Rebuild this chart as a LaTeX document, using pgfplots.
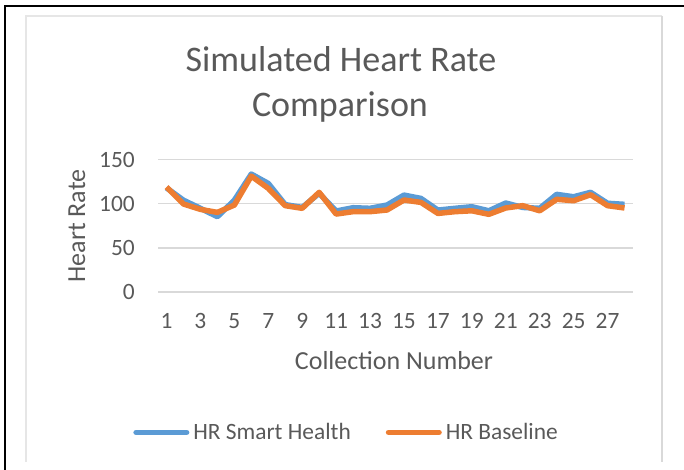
\documentclass[border=0pt]{standalone}
\usepackage{pgfplots}
\pgfplotsset{compat=1.18}
\usepackage{fontspec}
\setmainfont{Carlito}
\definecolor{hrblue}{HTML}{5B9BD5}
\definecolor{hrorange}{HTML}{ED7D31}
\definecolor{txtgray}{HTML}{595959}
\definecolor{gridgray}{HTML}{D9D9D9}
\definecolor{framelight}{HTML}{E6E6E6}
\begin{document}
\begin{tikzpicture}
\draw[black, line width=2pt] (5pt,0pt) -- (5pt,464pt) -- (690pt,464pt);
\draw[framelight, line width=1.3pt] (26pt,8pt) -- (26pt,454pt) -- (662pt,454pt);
\draw[gridgray, line width=2pt] (662pt,454pt) -- (662pt,8pt);
\begin{axis}[
  at={(158pt,178pt)}, anchor=south west,
  scale only axis, width=475pt, height=132.4pt,
  xmin=0.5, xmax=28.5, ymin=0, ymax=150,
  xtick={1,3,...,27}, ytick={0,50,100,150},
  axis line style={draw=none},
  major tick length=0pt,
  ymajorgrids, xmajorgrids=false,
  major grid style={draw=gridgray, line width=1.5pt},
  clip=false,
  ticklabel style={font=\fontsize{23.4}{28}\selectfont, text=txtgray},
  /pgf/number format/assume math mode=true,
  xticklabel style={anchor=base, inner sep=0pt, yshift=-37pt},
  yticklabel style={anchor=east, inner sep=0pt, xshift=-23pt},
  legend columns=2,
  legend style={draw=none, fill=none, font=\fontsize{23.4}{28}\selectfont, text=txtgray,
    at={(0.397,-1.06)}, anchor=center,
    /tikz/every odd column/.append style={column sep=2pt},
    /tikz/every even column/.append style={column sep=33pt}},
  legend image code/.code={\draw[#1, line cap=round] (0pt,0pt) -- (50.5pt,0pt);},
]
\addplot[hrblue, line width=5.5pt, line join=round] coordinates {
(1,118) (2,104) (3,94.8) (4,85.3) (5,104) (6,133.6) (7,123) (8,99) (9,95.8) (10,111.8)
(11,91.7) (12,95.5) (13,94.8) (14,98.5) (15,109.8) (16,106) (17,92.8) (18,94.8) (19,96.6) (20,92)
(21,100.8) (22,95.8) (23,94.8) (24,110.6) (25,107.9) (26,112.9) (27,100.5) (28,99.3)};
\addlegendentry{HR Smart Health}
\addplot[hrorange, line width=5.5pt, line join=round] coordinates {
(1,118.9) (2,99.7) (3,93.6) (4,90.2) (5,98.5) (6,131.3) (7,117.4) (8,97.8) (9,94.8) (10,112.9)
(11,88.3) (12,91) (13,91) (14,92.9) (15,104.2) (16,101.5) (17,89) (18,91) (19,92) (20,88)
(21,95.2) (22,97.8) (23,92) (24,105) (25,103.4) (26,110.2) (27,97.8) (28,95.2)};
\addlegendentry{HR Baseline}
\end{axis}
\node[anchor=base, text=txtgray, font=\fontsize{36}{44}\selectfont] at (341pt,398pt) {Simulated Heart Rate};
\node[anchor=base, text=txtgray, font=\fontsize{36}{44}\selectfont] at (340pt,353pt) {Comparison};
\node[anchor=base, text=txtgray, font=\fontsize{26}{31}\selectfont] at (394pt,100pt) {Collection Number};
\node[anchor=base, rotate=90, text=txtgray, font=\fontsize{26}{31}\selectfont] at (85pt,244pt) {Heart Rate};
\pgfresetboundingbox
\useasboundingbox (0pt,0pt) rectangle (684pt,470pt);
\end{tikzpicture}
\end{document}
